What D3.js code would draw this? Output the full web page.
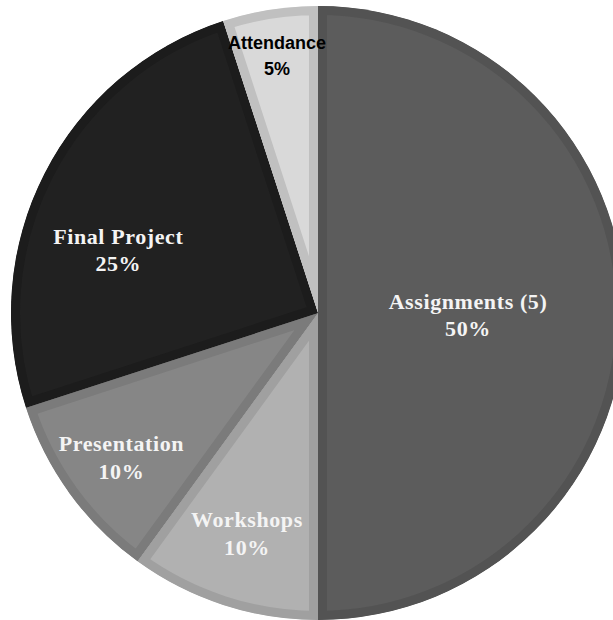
<!DOCTYPE html>
<html>
<head>
<meta charset="utf-8">
<script src="https://d3js.org/d3.v7.min.js"></script>
<style>
  body { margin: 0; background: #fff; }
</style>
</head>
<body>
<svg id="vis"></svg>
<script>
  // data
  var categories = ['Assignments (5)', 'Workshops', 'Presentation', 'Final Project', 'Attendance']
  var weights = [50, 10, 10, 25, 5]
  var fills = ['#5c5c5c', '#b1b1b1', '#868686', '#212121', '#d9d9d9']
  var edges = ['#535353', '#a0a0a0', '#7b7b7b', '#1c1c1c', '#c0c0c0']

  // label placement (radius from centre, angle shift in degrees)
  var labelR = [150, 230, 243, 210, 262]
  var labelShift = [0, 0, 0, -9, 0]

  var width = 613, height = 620
  var cx = 318, cy = 313, radius = 307
  var bevel = 9

  var svg = d3.select('#vis')
    .attr('width', width)
    .attr('height', height)

  var pie = d3.pie().sort(null).value(d => d)
  var arcs = pie(weights)
  var arc = d3.arc().innerRadius(0).outerRadius(radius)

  var g = svg.append('g').attr('transform', 'translate(' + cx + ',' + cy + ')')
  var defs = svg.append('defs')

  arcs.forEach(function(d, i) {
    defs.append('clipPath').attr('id', 'clip' + i)
      .append('path').attr('d', arc(d))
  })

  g.selectAll('path.slice')
    .data(arcs)
    .enter().append('path')
    .attr('class', 'slice')
    .attr('d', arc)
    .attr('fill', (d, i) => fills[i])
    .attr('stroke', (d, i) => edges[i])
    .attr('stroke-width', bevel * 2)
    .attr('stroke-linejoin', 'miter')
    .attr('clip-path', (d, i) => 'url(#clip' + i + ')')

  arcs.forEach(function(d, i) {
    var a = (d.startAngle + d.endAngle) / 2 + labelShift[i] * Math.PI / 180
    var x = labelR[i] * Math.sin(a)
    var y = -labelR[i] * Math.cos(a)
    var isSmall = i === 4
    var t = g.append('text')
      .attr('x', x)
      .attr('y', y)
      .attr('text-anchor', 'middle')
      .attr('fill', isSmall ? '#000' : '#f4f4f4')
      .attr('font-family', isSmall ? 'Liberation Sans, Arial, sans-serif' : 'Liberation Serif, Times New Roman, serif')
      .attr('font-weight', 'bold')
      .attr('font-size', isSmall ? 18 : 22)
      .attr('letter-spacing', isSmall ? 0 : 0.6)
    t.append('tspan').attr('x', x).attr('dy', isSmall ? '-0.3em' : '-0.2em').text(categories[i])
    t.append('tspan').attr('x', x).attr('dy', isSmall ? '1.45em' : '1.25em').text(weights[i] + '%')
  })
</script>
</body>
</html>
